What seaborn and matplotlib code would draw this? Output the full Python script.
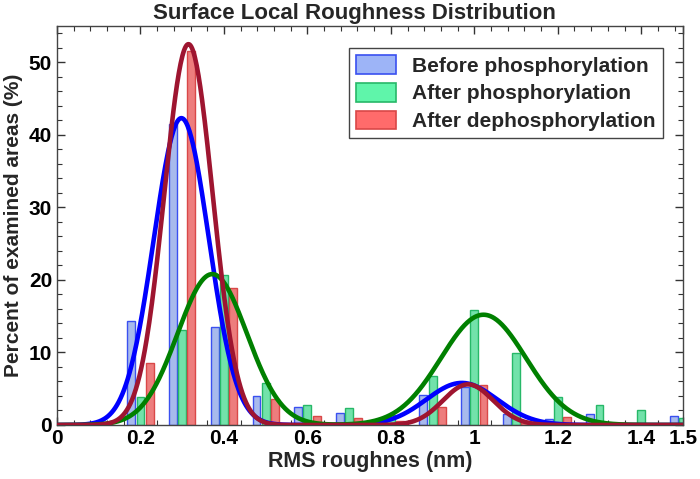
import numpy as np
import pandas as pd
import matplotlib
matplotlib.use("Agg")
import matplotlib.pyplot as plt
import seaborn as sns
from matplotlib.ticker import FixedLocator, MultipleLocator
from matplotlib.patches import Patch

# ---- data ----
series = ["Before phosphorylation", "After phosphorylation", "After dephosphorylation"]
bin_centers = [0.2, 0.3, 0.4, 0.5, 0.6, 0.7, 0.8, 0.9, 1.0, 1.1, 1.2, 1.3, 1.4, 1.5]
before_pct = [14.3, 41.5, 13.5, 4.0, 2.5, 1.7, 1.0, 4.2, 5.3, 1.5, 0.8, 1.5, 0.0, 1.2]
after_pct = [3.8, 13.1, 20.7, 5.8, 2.8, 2.3, 1.4, 6.7, 15.8, 9.9, 3.9, 2.8, 2.0, 1.0]
dephos_pct = [8.6, 51.5, 18.9, 3.6, 1.3, 0.9, 0.5, 2.5, 5.5, 0.6, 1.1, 0.0, 0.0, 0.0]

# Gaussian-fit parameters of the drawn curves (two peaks per series)
peak1_center = [0.298, 0.372, 0.315]
peak1_height = [42.3, 20.8, 52.5]
peak1_sigma = [0.066, 0.083, 0.058]
peak2_center = [0.970, 1.022, 0.985]
peak2_height = [5.8, 15.2, 5.6]
peak2_sigma = [0.085, 0.102, 0.060]

xtick_values = [0, 0.2, 0.4, 0.6, 0.8, 1.0, 1.2, 1.4, 1.5]
xtick_labels = ["0", "0.2", "0.4", "0.6", "0.8", "1", "1.2", "1.4", "1.5"]
ytick_values = [0, 10, 20, 30, 40, 50]

bar_fill = ["#9db4f7", "#5ff5aa", "#ff6b6b"]
bar_edge = ["#3a50f0", "#27b868", "#d94848"]
curve_color = ["#0000ff", "#008000", "#9e1530"]

# ---- figure ----
sns.set_theme(style="white")
plt.rcParams["font.family"] = ["Liberation Sans", "DejaVu Sans"]
plt.rcParams["font.weight"] = "bold"

fig = plt.figure(figsize=(7.0, 4.79), dpi=100)
ax = fig.add_axes([57 / 700, 1 - 425 / 479, 626 / 700, 399 / 479])

df = pd.DataFrame({
    "x": bin_centers * 3,
    "pct": before_pct + after_pct + dephos_pct,
    "series": [series[0]] * len(bin_centers) + [series[1]] * len(bin_centers) + [series[2]] * len(bin_centers),
})

sns.barplot(data=df, x="x", y="pct", hue="series", hue_order=series,
            palette=bar_fill, native_scale=True, dodge=True,
            width=0.66, gap=0.14, errorbar=None, linewidth=1.0,
            legend=False, ax=ax)
for cont, ec in zip(ax.containers, bar_edge):
    for b in cont:
        b.set_edgecolor(ec)

xs = np.linspace(0, 1.5, 700)
for i in range(3):
    y = (peak1_height[i] * np.exp(-0.5 * ((xs - peak1_center[i]) / peak1_sigma[i]) ** 2)
         + peak2_height[i] * np.exp(-0.5 * ((xs - peak2_center[i]) / peak2_sigma[i]) ** 2))
    sns.lineplot(x=xs, y=y, color=curve_color[i], linewidth=3.3, ax=ax,
                 sort=False, estimator=None, zorder=5 + i)

ax.set_xlim(0, 1.5)
ax.set_ylim(0, 55)
ax.xaxis.set_major_locator(FixedLocator(xtick_values))
ax.set_xticklabels(xtick_labels)
ax.xaxis.set_minor_locator(MultipleLocator(0.04))
ax.yaxis.set_major_locator(FixedLocator(ytick_values))
ax.yaxis.set_minor_locator(MultipleLocator(2))

ax.tick_params(axis="both", which="both", direction="in", top=True, right=True,
               bottom=True, left=True, colors="#333333", labelcolor="black")
ax.tick_params(which="major", length=6, width=1, labelsize=15)
ax.tick_params(which="minor", length=3.5, width=0.8)
ax.tick_params(axis="x", pad=3)
for lab in ax.get_xticklabels() + ax.get_yticklabels():
    lab.set_fontweight("bold")

for s in ax.spines.values():
    s.set_visible(True)
    s.set_color("#444444")
    s.set_linewidth(1.0)

ax.set_xlabel("RMS roughnes (nm)", fontsize=15.5, fontweight="bold", labelpad=2)
ax.set_ylabel("Percent of examined areas (%)", fontsize=15, fontweight="bold", labelpad=4)
fig.text(354 / 700, 1 - 3 / 479, "Surface Local Roughness Distribution",
         ha="center", va="top", fontsize=16, fontweight="bold")

handles = [Patch(facecolor=bar_fill[i], edgecolor=bar_edge[i], linewidth=1.2) for i in range(3)]
leg = ax.legend(handles, series, loc="upper right", bbox_to_anchor=(0.968, 0.945),
                borderaxespad=0, frameon=True, fancybox=False, shadow=False,
                prop={"size": 15, "weight": "bold"}, handlelength=1.9, handleheight=1.0,
                handletextpad=0.8, labelspacing=0.35, borderpad=0.35)
leg.get_frame().set_edgecolor("#444444")
leg.get_frame().set_linewidth(1.0)
leg.get_frame().set_alpha(1)

fig.savefig("out.png", dpi=100)
